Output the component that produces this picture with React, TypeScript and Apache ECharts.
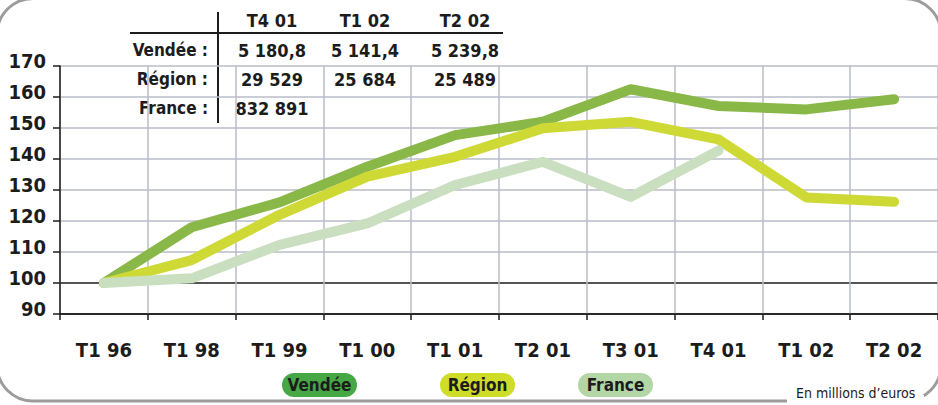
import React, { useEffect, useRef } from "react";
import * as echarts from "echarts";

const categories = ["T1 96", "T1 98", "T1 99", "T1 00", "T1 01", "T2 01", "T3 01", "T4 01", "T1 02", "T2 02"];
const vendee = [100, 118, 126, 137.5, 147.7, 152, 162.5, 157.1, 156, 159.3];
const region = [100, 107.4, 122, 134.3, 140.7, 149.9, 152, 146.3, 127.6, 126.2];
const france: (number | null)[] = [100, 101.5, 112.3, 119.2, 131.6, 139.1, 127.8, 142.7, null, null];

const seriesNames = ["Vendée", "Région", "France"];
const tableCols = ["T4 01", "T1 02", "T2 02"];
const tableRows = ["Vendée :", "Région :", "France :"];
const tableVendee = ["5 180,8", "5 141,4", "5 239,8"];
const tableRegion = ["29 529", "25 684", "25 489"];
const tableFrance = ["832 891", "", ""];
const footnote = "En millions d’euros";

const FONT = '"Liberation Sans Narrow", "DejaVu Sans Condensed", "DejaVu Sans", sans-serif';
const TXT = "#1c1c1c";
const LINE_COLORS = ["#8ab848", "#cfd935", "#c9dfc0"];
const PILL_COLORS = ["#45a845", "#cfdc28", "#b3d6a6"];
const GRID_COLOR = "#b9bdc8";

export default function App() {
  const ref = useRef<HTMLDivElement>(null);
  useEffect(() => {
    if (!ref.current) return;
    const chart = echarts.init(ref.current, null, { renderer: "svg" });

    const colX = [272, 365, 465];
    const rowY = [50, 79, 108];
    const tableValues = [tableVendee, tableRegion, tableFrance];
    const tableGraphics: any[] = [];
    tableCols.forEach((c, i) =>
      tableGraphics.push({
        type: "text",
        x: colX[i],
        y: 20,
        style: { text: c, fill: TXT, font: `bold 18px ${FONT}`, textAlign: "center", textVerticalAlign: "middle" },
      })
    );
    tableRows.forEach((r, j) => {
      tableGraphics.push({
        type: "text",
        x: 208,
        y: rowY[j],
        style: { text: r, fill: TXT, font: `bold 17px ${FONT}`, textAlign: "right", textVerticalAlign: "middle" },
      });
      tableValues[j].forEach((v, i) => {
        if (!v) return;
        tableGraphics.push({
          type: "text",
          x: colX[i],
          y: rowY[j],
          style: { text: v, fill: TXT, font: `bold 18px ${FONT}`, textAlign: "center", textVerticalAlign: "middle" },
        });
      });
    });
    tableGraphics.push({
      type: "line",
      shape: { x1: 130, y1: 33, x2: 503, y2: 33 },
      style: { stroke: TXT, lineWidth: 2 },
    });
    tableGraphics.push({
      type: "line",
      shape: { x1: 218, y1: 12, x2: 218, y2: 123 },
      style: { stroke: TXT, lineWidth: 2 },
    });

    const legendLefts = [282, 440, 578];
    const legends = seriesNames.map((n, i) => ({
      data: [n],
      left: legendLefts[i] - 5,
      top: 373,
      padding: 0,
      itemWidth: 0,
      itemHeight: 0,
      icon: "circle",
      selectedMode: false,
      formatter: "{a|{name}}",
      textStyle: {
        rich: {
          a: {
            width: 75,
            height: 24,
            lineHeight: 24,
            align: "center",
            backgroundColor: PILL_COLORS[i],
            borderRadius: 12,
            fontSize: 17,
            fontWeight: "bold",
            fontFamily: FONT,
            color: TXT,
          },
        },
      },
    }));

    const mkLine = (name: string, data: (number | null)[], color: string) => ({
      name,
      type: "line",
      data,
      symbol: "none",
      connectNulls: false,
      itemStyle: { color },
      lineStyle: { color, width: 10, cap: "round", join: "round" },
    });

    chart.setOption({
      animation: false,
      color: LINE_COLORS,
      grid: { left: 60, top: 66, width: 878, height: 248, containLabel: false },
      legend: legends,
      xAxis: {
        type: "category",
        data: categories,
        boundaryGap: true,
        axisLine: { lineStyle: { color: TXT, width: 1.5 } },
        axisTick: { show: true, length: 6, lineStyle: { color: TXT, width: 1.5 } },
        axisLabel: {
          interval: 0,
          margin: 26,
          fontSize: 20,
          fontWeight: "bold",
          fontFamily: FONT,
          color: TXT,
        },
        splitLine: { show: true, lineStyle: { color: GRID_COLOR, width: 1.5 } },
      },
      yAxis: {
        type: "value",
        min: 90,
        max: 170,
        interval: 10,
        axisLine: { show: true, lineStyle: { color: TXT, width: 1.5 } },
        axisTick: { show: true, length: 7, lineStyle: { color: TXT, width: 1.5 } },
        axisLabel: {
          margin: 14,
          formatter: "{a|{value}}",
          rich: {
            a: {
              fontSize: 20,
              fontWeight: "bold",
              fontFamily: FONT,
              color: TXT,
              padding: [0, 0, 10, 0],
            },
          },
        },
        splitLine: {
          show: true,
          lineStyle: {
            color: [TXT, TXT, GRID_COLOR, GRID_COLOR, GRID_COLOR, GRID_COLOR, GRID_COLOR, GRID_COLOR, GRID_COLOR],
            width: 1.5,
          },
        },
      },
      series: [
        mkLine(seriesNames[0], vendee, LINE_COLORS[0]),
        mkLine(seriesNames[1], region, LINE_COLORS[1]),
        mkLine(seriesNames[2], france, LINE_COLORS[2]),
      ],
      graphic: [
        {
          type: "rect",
          z: 100,
          shape: { x: -3, y: -1.5, width: 944, height: 402.5, r: 36 },
          style: { fill: "transparent", stroke: "#9c9c9c", lineWidth: 3 },
        },
        {
          type: "rect",
          z: 101,
          shape: { x: 787, y: 395, width: 137, height: 10 },
          style: { fill: "#ffffff" },
        },
        {
          type: "text",
          z: 102,
          x: 796,
          y: 393,
          style: { text: footnote, fill: TXT, font: `14px ${FONT}`, textAlign: "left", textVerticalAlign: "middle" },
        },
        ...tableGraphics,
      ],
    });
    return () => chart.dispose();
  }, []);
  return <div ref={ref} style={{ width: 938, height: 405, position: "absolute", left: 0, top: 0 }} />;
}
